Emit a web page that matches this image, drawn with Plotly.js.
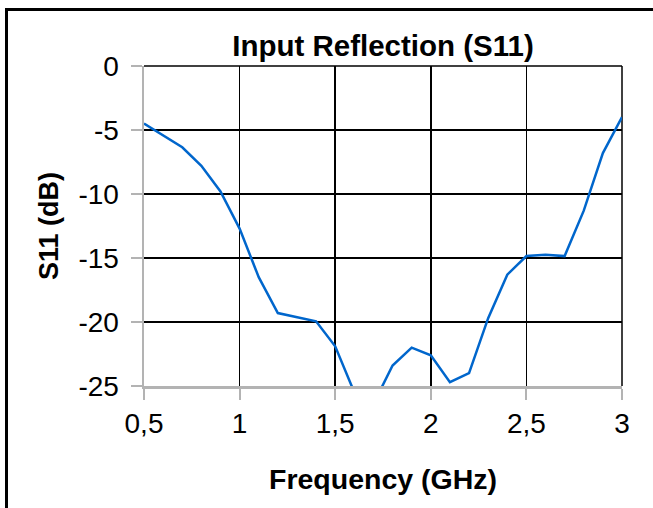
<!DOCTYPE html>
<html>
<head>
<meta charset="utf-8">
<script src="https://cdn.plot.ly/plotly-3.0.1.min.js"></script>
<style>
  html, body { margin: 0; padding: 0; overflow: hidden; background: #fff; }
  #chart { width: 653px; height: 508px; }
  #frame { position: absolute; left: 5px; top: 8px; width: 700px; height: 600px;
           border: 3px solid #000; pointer-events: none; }
</style>
</head>
<body>
<div id="chart"></div>
<div id="frame"></div>
<script>
// Frequency (GHz)
const frequency = [0.5, 0.6, 0.7, 0.8, 0.9, 1.0, 1.1, 1.2, 1.3, 1.4, 1.5, 1.6, 1.7,
                   1.8, 1.9, 2.0, 2.1, 2.2, 2.3, 2.4, 2.5, 2.6, 2.7, 2.8, 2.9, 3.0];
// S11 (dB)
const s11 = [-4.5, -5.4, -6.35, -7.8, -9.8, -12.7, -16.5, -19.3, -19.6, -19.95, -21.9, -25.5, -26.4,
             -23.4, -22.0, -22.6, -24.7, -24.0, -19.7, -16.3, -14.85, -14.75, -14.85, -11.3, -6.8, -4.0];

const xTickVals = [0.5, 1, 1.5, 2, 2.5, 3];
const xTickText = ['0,5', '1', '1,5', '2', '2,5', '3'];
const yTickVals = [0, -5, -10, -15, -20, -25];
const yTickText = ['0', '-5', '-10', '-15', '-20', '-25'];

const FONT = 'Liberation Sans, Arial, sans-serif';

const trace = {
  x: frequency, y: s11, type: 'scatter', mode: 'lines',
  line: { color: '#0066cc', width: 2.5 },
  hoverinfo: 'skip'
};

const layout = {
  width: 653, height: 508,
  margin: { l: 144, r: 31, t: 66, b: 122 },
  paper_bgcolor: '#ffffff', plot_bgcolor: '#ffffff',
  showlegend: false,
  font: { family: FONT, color: '#000', size: 28 },
  title: {
    text: 'Input Reflection (S11)',
    font: { family: FONT, size: 29.5, weight: 'bold', color: '#000' },
    x: 0.5, xref: 'paper', xanchor: 'center',
    y: 1 - 46 / 508, yref: 'container', yanchor: 'middle'
  },
  xaxis: {
    range: [0.5, 3],
    tickvals: xTickVals, ticktext: xTickText,
    showgrid: true, gridcolor: '#000', gridwidth: 1.5,
    zeroline: false,
    showline: true, linecolor: '#b3b3b3', linewidth: 2.5,
    ticks: 'outside', ticklen: 11, tickwidth: 2, tickcolor: '#b3b3b3',
    ticklabelstandoff: 0,
    tickfont: { family: FONT, size: 28, color: '#000' },
    title: { text: 'Frequency (GHz)', font: { family: FONT, size: 28.5, weight: 'bold', color: '#000' }, standoff: 31 }
  },
  yaxis: {
    range: [-25, 0],
    tickvals: yTickVals, ticktext: yTickText,
    showgrid: true, gridcolor: '#000', gridwidth: 1.5,
    zeroline: false,
    showline: true, linecolor: '#b3b3b3', linewidth: 2.5,
    ticks: 'outside', ticklen: 11, tickwidth: 2, tickcolor: '#b3b3b3',
    ticklabelstandoff: 6,
    tickfont: { family: FONT, size: 28, color: '#000' },
    title: { text: 'S11 (dB)', font: { family: FONT, size: 27, weight: 'bold', color: '#000' }, standoff: 12 }
  },
  shapes: [
    { type: 'line', xref: 'paper', yref: 'paper', x0: 0, x1: 1, y0: 1, y1: 1, line: { color: '#000', width: 1.5 }, layer: 'below' },
    { type: 'line', xref: 'paper', yref: 'paper', x0: 1, x1: 1, y0: 0, y1: 1, line: { color: '#000', width: 1.5 }, layer: 'below' }
  ]
};

Plotly.newPlot('chart', [trace], layout, { staticPlot: true, displayModeBar: false });
</script>
</body>
</html>
